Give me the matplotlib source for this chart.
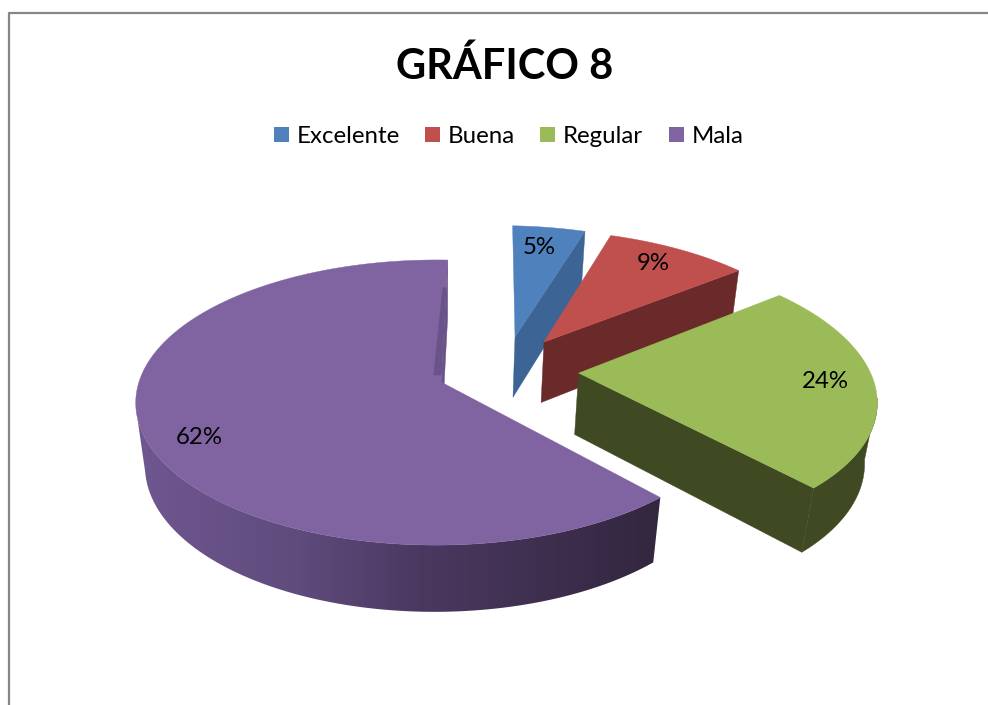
import numpy as np
import matplotlib
matplotlib.use('Agg')
from matplotlib import pyplot as plt
from matplotlib.colors import to_rgb
from matplotlib.patches import Polygon, Rectangle
from matplotlib.lines import Line2D

plt.rcParams['font.family'] = ['Lato', 'DejaVu Sans']

TITLE = 'GRÁFICO 8'
categories = ['Excelente', 'Buena', 'Regular', 'Mala']
values = [4.7, 9.3, 24.0, 62.0]  # percent

top_colors = ['#4F81BD', '#C0504D', '#9BBB59', '#8064A2']
wall_colors = ['#3C6595', '#6B2A2A', '#404A22', '#6A5388']
# world offset of each exploded slice (right, back)
explode = [(0.262, 0.34), (0.363, 0.30), (0.47, 0.065), (0.0, 0.0)]
radii = [1.0, 1.0, 1.02, 1.0]
legend_box_x = [274, 425, 540, 669]
label_pos = [(539, 248), (653, 263), (825, 381), (199, 437)]

# side of the big slice, from left to right
side_x = [136, 300, 420, 650]
side_colors = ['#6F5790', '#5F4B7C', '#4B3860', '#332740']

START_ANGLE = 1.5
X0, Y0 = 441, 382   # centre of the pie on screen
FX, FY = 297.5, 139.6  # radius scale
K = 0.144           # perspective over depth
L = 0.015           # perspective from left to right
THICK = 64          # height of the pie
M = 0.03            # perspective over height
SIDE_FROM, SIDE_TO = 100, 260  # part of the rim that faces the viewer


def project(u, v, t=0.0):
    d = 1 + K * v + L * u + M * t
    return X0 + FX * u / d, Y0 + (-FY * v + THICK * t) / d


def rim(offset, ang, t=0.0, r=1.0):
    rad = np.radians(ang)
    u = offset[0] + r * np.sin(rad)
    v = offset[1] + r * np.cos(rad)
    return project(u, v, t)


fig = plt.figure(figsize=(9.88, 7.05), dpi=100)
ax = fig.add_axes([0, 0, 1, 1])

# chart frame, open to the right and the bottom
ax.add_line(Line2D([8.5, 8.5, 988], [705, 12.5, 12.5], color='#868686', lw=1.6))

ax.text(505, 79, TITLE, fontsize=30, fontweight='bold', ha='center', va='baseline', color='black')

for name, x, col in zip(categories, legend_box_x, top_colors):
    ax.add_patch(Rectangle((x, 127), 15, 15, color=col, lw=0))
    ax.text(x + 23, 143, name, fontsize=17.3, ha='left', va='baseline', color='black')

edges = START_ANGLE + np.concatenate([[0], np.cumsum(values)]) * 3.6

for i, val in enumerate(values):
    off = explode[i]
    rad = radii[i]
    a0, a1 = edges[i], edges[i + 1]
    angs = np.linspace(a0, a1, max(int(a1 - a0) * 2, 8))

    # cut wall at the end of the slice
    centre_top = project(off[0], off[1], 0)
    centre_bot = project(off[0], off[1], 1)
    wall = [centre_top, rim(off, a1, 0, rad), rim(off, a1, 1, rad), centre_bot]
    ax.add_patch(Polygon(wall, closed=True, fc=wall_colors[i], ec=wall_colors[i], lw=0.3))

    # outer side, only where it faces the viewer
    front = angs[(angs > SIDE_FROM) & (angs < SIDE_TO)]
    if len(front) > 1:
        side = [rim(off, a, 0, rad) for a in front] + [rim(off, a, 1, rad) for a in front[::-1]]
        if categories[i] == 'Mala':
            patch = Polygon(side, closed=True, fc='none', ec='none')
            ax.add_patch(patch)
            xs = np.arange(side_x[0] - 15, side_x[-1] + 15)
            rgb = np.array([to_rgb(c) for c in side_colors])
            grad = np.stack([np.interp(xs, side_x, rgb[:, c]) for c in range(3)], axis=1)[None, :, :]
            im = ax.imshow(grad, extent=(xs[0], xs[-1], 700, 300), aspect='auto', interpolation='bilinear')
            im.set_clip_path(patch)
        else:
            ax.add_patch(Polygon(side, closed=True, fc=wall_colors[i], ec=wall_colors[i], lw=0.3))

    # top face
    pts = [centre_top] + [rim(off, a, 0, rad) for a in angs]
    ax.add_patch(Polygon(pts, closed=True, fc=top_colors[i], ec=top_colors[i], lw=0.3))

# thin dark strip along the closing edge of the big slice
rs = np.linspace(0.05, 0.75, 12)
right_side = [rim(explode[3], edges[4], 0, r) for r in rs]
left_side = [(x - 2 - 6 * (1 - r), y) for (x, y), r in zip(right_side, rs)]
ax.add_patch(Polygon(right_side + left_side[::-1], closed=True, fc='#6A5388', ec='#6A5388', lw=0.2))

for val, (x, y) in zip(values, label_pos):
    ax.text(x, y, '{:.0f}%'.format(val), fontsize=17.3, ha='center', va='center', color='black')

ax.set_xlim(0, 988)
ax.set_ylim(705, 0)
ax.axis('off')

fig.savefig('out.png', dpi=100)
